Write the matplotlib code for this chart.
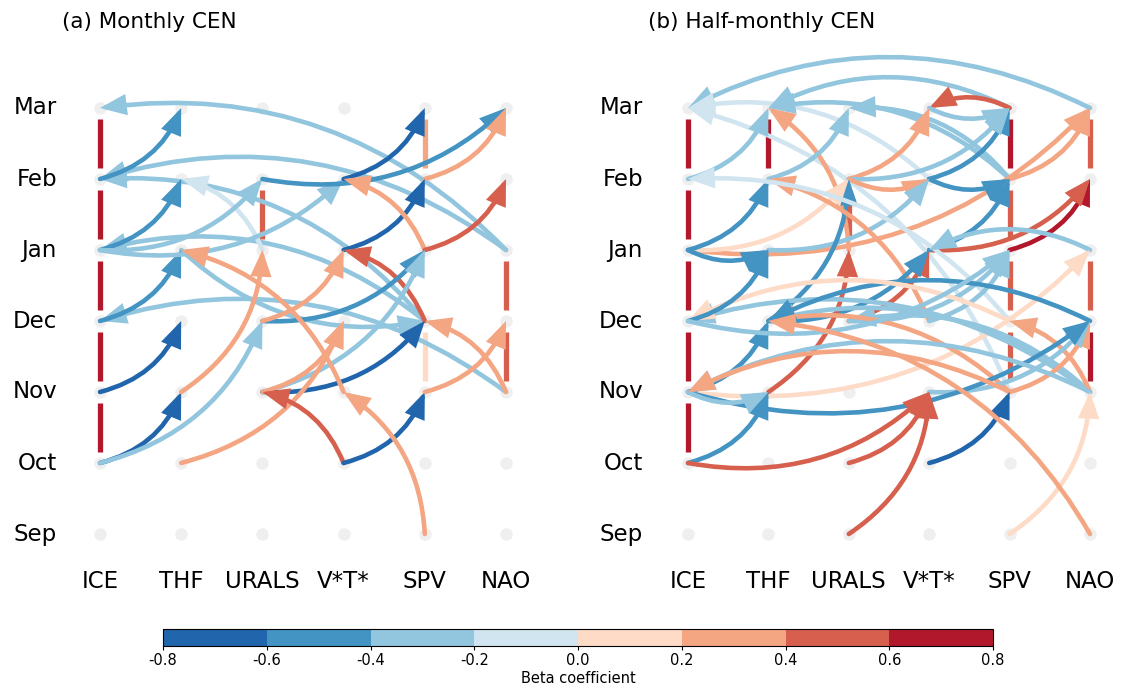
import matplotlib
matplotlib.use("Agg")
import matplotlib.pyplot as plt
import numpy as np
from matplotlib.patches import FancyArrowPatch, ArrowStyle
from matplotlib.colors import ListedColormap, BoundaryNorm
from matplotlib.colorbar import ColorbarBase

W, H = 1127, 687

variables = ["ICE", "THF", "URALS", "V*T*", "SPV", "NAO"]
var_keys = ["ICE", "THF", "URALS", "VT", "SPV", "NAO"]
months = ["Sep", "Oct", "Nov", "Dec", "Jan", "Feb", "Mar"]
titles = ["(a) Monthly CEN", "(b) Half-monthly CEN"]

bin_colors = ["#2166ac", "#4393c3", "#92c5de", "#d1e5f0",
              "#fddbc7", "#f4a582", "#d6604d", "#b2182b"]
bounds = [-0.8, -0.6, -0.4, -0.2, 0.0, 0.2, 0.4, 0.6, 0.8]
tick_labels = ["-0.8", "-0.6", "-0.4", "-0.2", "0.0", "0.2", "0.4", "0.6", "0.8"]

# auto-links (variable, lower month, upper month, beta)
auto_a = [("ICE", "Oct", "Nov", 0.7), ("ICE", "Nov", "Dec", 0.7), ("ICE", "Dec", "Jan", 0.7),
          ("ICE", "Jan", "Feb", 0.7), ("ICE", "Feb", "Mar", 0.7),
          ("URALS", "Jan", "Feb", 0.5), ("SPV", "Feb", "Mar", 0.3), ("SPV", "Nov", "Dec", 0.1),
          ("NAO", "Dec", "Jan", 0.5), ("NAO", "Nov", "Dec", 0.5)]
auto_b = [("ICE", "Oct", "Nov", 0.7), ("ICE", "Nov", "Dec", 0.7), ("ICE", "Dec", "Jan", 0.7),
          ("ICE", "Jan", "Feb", 0.7), ("ICE", "Feb", "Mar", 0.7), ("THF", "Feb", "Mar", 0.7),
          ("URALS", "Jan", "Feb", 0.5), ("SPV", "Feb", "Mar", 0.7), ("SPV", "Jan", "Feb", 0.5),
          ("SPV", "Dec", "Jan", 0.5), ("SPV", "Nov", "Dec", 0.5),
          ("NAO", "Feb", "Mar", 0.5), ("NAO", "Dec", "Jan", 0.5), ("NAO", "Nov", "Dec", 0.7)]

# causal links (source var, source month, target var, target month, beta)
links_a = [
    ("NAO", "Jan", "ICE", "Mar", -0.3), ("NAO", "Jan", "ICE", "Feb", -0.3),
    ("SPV", "Dec", "ICE", "Feb", -0.3), ("SPV", "Dec", "ICE", "Jan", -0.3),
    ("NAO", "Nov", "ICE", "Dec", -0.3), ("THF", "Jan", "SPV", "Dec", -0.3),
    ("ICE", "Feb", "THF", "Mar", -0.5), ("ICE", "Jan", "THF", "Feb", -0.5),
    ("ICE", "Dec", "THF", "Jan", -0.5), ("ICE", "Nov", "THF", "Dec", -0.7),
    ("ICE", "Oct", "THF", "Nov", -0.7), ("ICE", "Oct", "URALS", "Dec", -0.3),
    ("URALS", "Jan", "THF", "Feb", -0.1), ("ICE", "Jan", "URALS", "Feb", -0.3),
    ("ICE", "Jan", "VT", "Feb", -0.3), ("URALS", "Feb", "NAO", "Mar", -0.5),
    ("VT", "Feb", "SPV", "Mar", -0.7), ("SPV", "Feb", "NAO", "Mar", 0.3),
    ("VT", "Jan", "SPV", "Feb", -0.7), ("SPV", "Jan", "VT", "Feb", 0.3),
    ("SPV", "Jan", "NAO", "Feb", 0.5), ("SPV", "Dec", "VT", "Jan", 0.5),
    ("URALS", "Dec", "SPV", "Jan", -0.5), ("URALS", "Nov", "SPV", "Jan", -0.3),
    ("URALS", "Dec", "VT", "Jan", 0.3), ("THF", "Nov", "URALS", "Jan", 0.3),
    ("URALS", "Nov", "SPV", "Dec", -0.7), ("URALS", "Nov", "VT", "Dec", 0.3),
    ("THF", "Oct", "VT", "Dec", 0.3), ("VT", "Oct", "URALS", "Nov", 0.5),
    ("VT", "Oct", "SPV", "Nov", -0.7), ("SPV", "Sep", "VT", "Nov", 0.3),
    ("VT", "Nov", "THF", "Jan", 0.3), ("SPV", "Nov", "NAO", "Dec", 0.3),
    ("NAO", "Nov", "SPV", "Dec", 0.3),
]
links_b = [
    ("NAO", "Mar", "ICE", "Mar", -0.3), ("SPV", "Nov", "ICE", "Mar", -0.1),
    ("VT", "Feb", "ICE", "Mar", -0.1), ("ICE", "Feb", "THF", "Mar", -0.3),
    ("SPV", "Feb", "THF", "Mar", -0.3), ("SPV", "Mar", "THF", "Mar", -0.3),
    ("URALS", "Jan", "THF", "Mar", 0.3), ("THF", "Feb", "URALS", "Mar", -0.3),
    ("SPV", "Feb", "URALS", "Mar", -0.3), ("SPV", "Mar", "VT", "Mar", 0.5),
    ("VT", "Mar", "SPV", "Mar", -0.3), ("URALS", "Feb", "VT", "Mar", 0.3),
    ("VT", "Feb", "SPV", "Mar", -0.5), ("URALS", "Feb", "SPV", "Mar", -0.3),
    ("ICE", "Jan", "NAO", "Mar", 0.3), ("SPV", "Feb", "NAO", "Mar", 0.3),
    ("SPV", "Jan", "NAO", "Feb", 0.7), ("VT", "Jan", "NAO", "Feb", 0.5),
    ("VT", "Jan", "SPV", "Feb", -0.5), ("VT", "Feb", "SPV", "Feb", -0.5),
    ("URALS", "Feb", "VT", "Feb", 0.3), ("THF", "Jan", "VT", "Feb", -0.3),
    ("THF", "Dec", "URALS", "Feb", -0.5), ("ICE", "Jan", "URALS", "Feb", 0.1),
    ("ICE", "Jan", "THF", "Feb", -0.5), ("VT", "Dec", "THF", "Feb", 0.3),
    ("SPV", "Dec", "ICE", "Feb", -0.1), ("NAO", "Jan", "VT", "Jan", -0.3),
    ("ICE", "Nov", "NAO", "Jan", 0.1), ("URALS", "Dec", "VT", "Jan", 0.5),
    ("THF", "Dec", "VT", "Jan", -0.5), ("VT", "Dec", "SPV", "Jan", -0.3),
    ("URALS", "Dec", "SPV", "Jan", -0.3), ("THF", "Nov", "URALS", "Jan", 0.5),
    ("ICE", "Jan", "THF", "Jan", -0.5), ("NAO", "Nov", "ICE", "Dec", -0.3),
    ("NAO", "Nov", "THF", "Dec", -0.3), ("NAO", "Nov", "URALS", "Dec", -0.3),
    ("ICE", "Nov", "THF", "Dec", -0.5), ("SPV", "Nov", "THF", "Dec", 0.3),
    ("NAO", "Dec", "THF", "Dec", -0.5), ("SPV", "Dec", "ICE", "Dec", 0.1),
    ("ICE", "Dec", "THF", "Jan", -0.5), ("ICE", "Dec", "SPV", "Jan", -0.3),
    ("NAO", "Nov", "SPV", "Dec", 0.3), ("SPV", "Nov", "NAO", "Dec", 0.3),
    ("VT", "Nov", "NAO", "Dec", -0.3), ("ICE", "Nov", "NAO", "Dec", -0.5),
    ("ICE", "Oct", "THF", "Nov", -0.5), ("ICE", "Nov", "THF", "Nov", -0.3),
    ("NAO", "Nov", "ICE", "Nov", -0.3), ("SPV", "Nov", "ICE", "Nov", 0.3),
    ("ICE", "Oct", "VT", "Nov", 0.5), ("URALS", "Oct", "VT", "Nov", 0.5),
    ("URALS", "Sep", "VT", "Nov", 0.5), ("VT", "Oct", "SPV", "Nov", -0.7),
    ("SPV", "Sep", "NAO", "Nov", 0.1), ("NAO", "Sep", "THF", "Dec", 0.3),
]

cmap = ListedColormap(bin_colors)
norm = BoundaryNorm(bounds, cmap.N)

fig = plt.figure(figsize=(W / 100, H / 100), dpi=100)

# pixel layout of the two node grids
panels = [
    dict(x0=100, dx=81.2, title_x=62, mon_x=57, auto=auto_a, links=links_a),
    dict(x0=688, dx=80.4, title_x=648, mon_x=643, auto=auto_b, links=links_b),
]
y0, dy = 534, 71
top_px, bot_px = 40, 600


def color_of(b):
    return cmap(norm(b))


for k, p in enumerate(panels):
    left_px = p["x0"] - 50
    right_px = p["x0"] + 5 * p["dx"] + 40
    ax = fig.add_axes([left_px / W, 1 - bot_px / H, (right_px - left_px) / W,
                       (bot_px - top_px) / H])
    ax.set_xlim((left_px - p["x0"]) / p["dx"], (right_px - p["x0"]) / p["dx"])
    ax.set_ylim((y0 - bot_px) / dy, (y0 - top_px) / dy)
    ax.axis("off")

    # nodes
    gx, gy = np.meshgrid(np.arange(len(variables)), np.arange(len(months)))
    ax.scatter(gx.ravel(), gy.ravel(), s=80, color="#efefef", zorder=1, linewidths=0)

    # auto links
    for v, m1, m2, b in p["auto"]:
        c = var_keys.index(v)
        r1, r2 = months.index(m1), months.index(m2)
        ax.plot([c, c], [r1 + 0.16, r2 - 0.16], color=color_of(b), lw=3.8,
                solid_capstyle="butt", zorder=2)

    # causal links
    for sv, sm, tv, tm, b in p["links"]:
        a = (var_keys.index(sv), months.index(sm))
        t = (var_keys.index(tv), months.index(tm))
        arr = FancyArrowPatch(a, t, connectionstyle="arc3,rad=0.25",
                              arrowstyle=ArrowStyle("-|>", head_length=0.6, head_width=0.24),
                              mutation_scale=22, color=color_of(b), lw=3.3,
                              shrinkA=0, shrinkB=0, zorder=3, clip_on=False,
                              joinstyle="miter")
        ax.add_patch(arr)

    # labels
    for r, m in enumerate(months):
        ax.text((p["mon_x"] - p["x0"]) / p["dx"], r, m, ha="right", va="center",
                fontsize=16.5, clip_on=False)
    for c, v in enumerate(variables):
        ax.text(c, (y0 - 581) / dy, v, ha="center", va="center", fontsize=16.5,
                clip_on=False)
    fig.text(p["title_x"] / W, 1 - 22 / H, titles[k], ha="left", va="center",
             fontsize=15.5)

# colorbar
cax = fig.add_axes([163 / W, 1 - 646 / H, 830 / W, 17 / H])
cb = ColorbarBase(cax, cmap=cmap, norm=norm, orientation="horizontal", ticks=bounds)
cb.set_ticklabels(tick_labels)
cax.tick_params(labelsize=10.5, length=3, pad=2)
cb.set_label("Beta coefficient", fontsize=10.5, labelpad=2)
cb.outline.set_linewidth(0.8)

fig.savefig("out.png", dpi=100)
